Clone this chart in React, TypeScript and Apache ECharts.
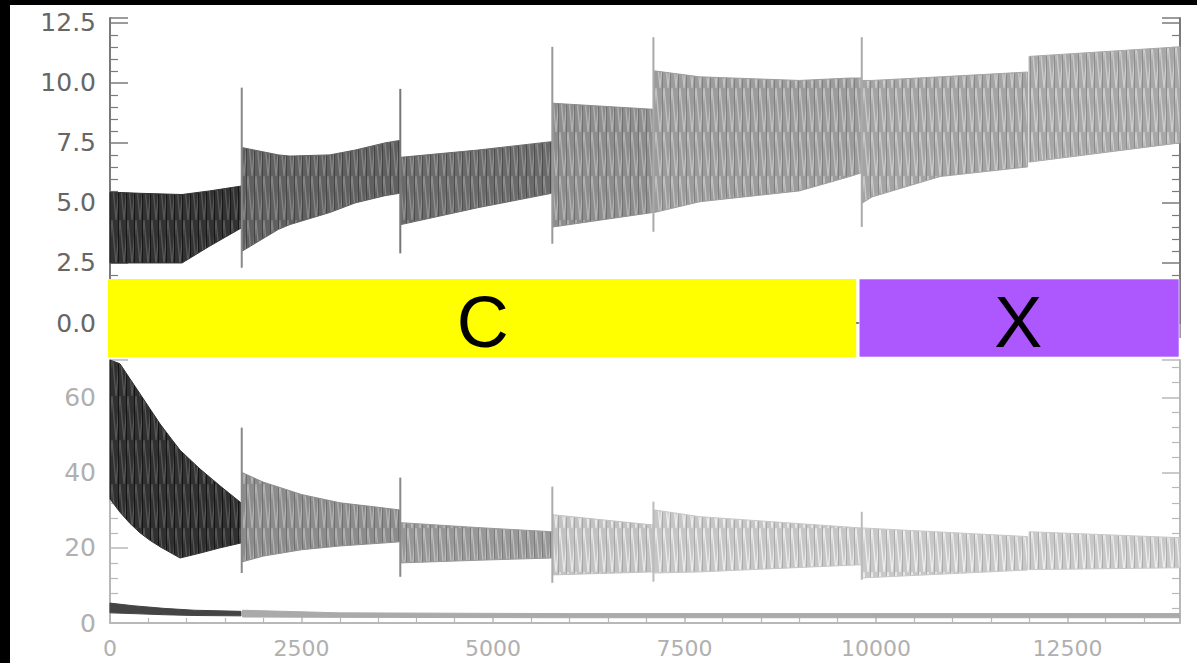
import React, { useEffect, useRef } from 'react';
import * as echarts from 'echarts';

// ---------- data ----------
const X_MAX = 13970;

// x positions of the transient spikes (segment boundaries)
const spikeX = [1720, 3790, 5775, 7095, 9815];
const topSpikeHigh = [9.8, 9.75, 11.5, 11.9, 11.9];
const topSpikeLow = [2.3, 2.9, 3.3, 3.8, 4.0];
const bottomSpikeHigh = [52, 38.7, 36.3, 32.3, 29.6];
const bottomSpikeLow = [13.3, 12.3, 10.7, 11.0, 11.5];

// top panel: oscillation envelope per segment
const topX = [
  [0, 400, 940, 1300, 1710],
  [1730, 2200, 2350, 2870, 3200, 3590, 3780],
  [3800, 4800, 5765],
  [5785, 7085],
  [7105, 7700, 9000, 9660, 9805],
  [9825, 9950, 10840, 11980],
  [12000, 13970],
];
const topUpper = [
  [5.45, 5.4, 5.35, 5.5, 5.7],
  [7.3, 7.0, 6.95, 7.0, 7.2, 7.5, 7.6],
  [6.9, 7.2, 7.55],
  [9.15, 8.9],
  [10.5, 10.25, 10.1, 10.2, 10.2],
  [10.1, 10.1, 10.25, 10.45],
  [11.1, 11.5],
];
const topLower = [
  [2.5, 2.5, 2.5, 3.2, 3.95],
  [3.0, 3.9, 4.1, 4.6, 5.0, 5.3, 5.4],
  [4.1, 4.8, 5.4],
  [4.0, 4.6],
  [4.6, 5.05, 5.5, 6.1, 6.25],
  [5.0, 5.25, 6.1, 6.5],
  [6.7, 7.5],
];

// bottom panel: oscillation envelope per segment
const bottomX = [
  [0, 130, 261, 392, 522, 653, 783, 914, 1175, 1436, 1710],
  [1730, 2000, 2500, 3000, 3500, 3780],
  [3800, 4800, 5765],
  [5785, 7085],
  [7105, 7700, 9805],
  [9825, 11980],
  [12000, 13970],
];
const bottomUpper = [
  [72, 69, 65, 61, 57, 53, 49.5, 46, 41, 36.5, 32],
  [40, 37.5, 34.2, 32, 30.8, 30.1],
  [26.7, 25.4, 24.3],
  [28.8, 26.1],
  [30.1, 28.3, 25.3],
  [25.3, 23],
  [24.3, 22.7],
];
const bottomLower = [
  [33, 29.5, 26.5, 24, 22, 20.3, 18.8, 17.3, 18.6, 20, 21.3],
  [16.3, 17.8, 19.5, 20.5, 21.2, 21.6],
  [16, 16.7, 17.3],
  [12.8, 13.6],
  [13.3, 13.6, 15.5],
  [12, 14.1],
  [14.2, 14.7],
];

// thin trace near zero in the bottom panel
const traceX = [
  [0, 300, 700, 1100, 1710],
  [1730, 3000, 6000, 10000, 13970],
];
const traceUpper = [
  [5.3, 4.6, 3.9, 3.4, 3.1],
  [3.4, 2.7, 2.5, 2.5, 2.5],
];
const traceLower = [
  [2.7, 2.5, 2.2, 2.0, 1.9],
  [1.6, 1.5, 1.4, 1.4, 1.4],
];

// phase bar
const phaseLabels = ['C', 'X'];
const phaseStart = [0, 9800];
const phaseEnd = [9800, 14000];

// ---------- styles ----------
const topColors = ['#323232', '#606060', '#6a6a6a', '#8d8d8d', '#9c9c9c', '#a4a4a4', '#a8a8a8'];
const bottomColors = ['#303030', '#8c8c8c', '#989898', '#c2c2c2', '#c6c6c6', '#c8c8c8', '#c8c8c8'];
const topSpikeColors = ['#888888', '#777777', '#999999', '#aaaaaa', '#aaaaaa'];
const bottomSpikeColors = ['#888888', '#888888', '#aaaaaa', '#bbbbbb', '#bbbbbb'];
const traceColors = ['#444444', '#aaaaaa'];
const phaseColors = ['#ffff00', '#ad57ff'];

const FONT = 'DejaVu Sans';

function shade(hex: string, d: number) {
  const n = parseInt(hex.slice(1), 16);
  const c = (v: number) => Math.max(0, Math.min(255, v + d)).toString(16).padStart(2, '0');
  return '#' + c((n >> 16) & 255) + c((n >> 8) & 255) + c(n & 255);
}

function makePattern(base: string, light: string, dark: string) {
  const w = 8;
  const h = 44;
  const c = document.createElement('canvas');
  c.width = w;
  c.height = h;
  const g = c.getContext('2d');
  if (!g) return base;
  g.fillStyle = base;
  g.fillRect(0, 0, w, h);
  g.strokeStyle = light;
  g.lineWidth = 1.3;
  g.beginPath();
  g.moveTo(0, 0);
  g.lineTo(w / 2, h);
  g.lineTo(w, 0);
  g.stroke();
  g.strokeStyle = dark;
  g.lineWidth = 1;
  g.beginPath();
  g.moveTo(6.5, 0);
  g.lineTo(6.5, h);
  g.stroke();
  return { image: c.toDataURL(), repeat: 'repeat', imageWidth: w, imageHeight: h };
}

function bandSeries(name: string, xs: number[][], up: number[][], lo: number[][], colors: string[], xi: number, yi: number, textured: boolean) {
  const fills = colors.map((col) => (textured ? makePattern(col, shade(col, 38), shade(col, -28)) : col));
  return {
    type: 'custom',
    name,
    xAxisIndex: xi,
    yAxisIndex: yi,
    z: 2,
    silent: true,
    data: xs.map((_, i) => [i]),
    renderItem: (params: any, api: any) => {
      const i = api.value(0);
      const pts: number[][] = [];
      xs[i].forEach((x, k) => pts.push(api.coord([x, up[i][k]])));
      for (let k = xs[i].length - 1; k >= 0; k--) pts.push(api.coord([xs[i][k], lo[i][k]]));
      const cs = params.coordSys;
      const clipped = echarts.graphic.clipPointsByRect(pts, { x: cs.x, y: cs.y, width: cs.width, height: cs.height });
      return {
        type: 'polygon',
        shape: { points: clipped },
        style: { fill: fills[i], stroke: colors[i], lineWidth: 1 },
      };
    },
  };
}

function spikeSeries(name: string, lows: number[], highs: number[], colors: string[], xi: number, yi: number) {
  return {
    type: 'custom',
    name,
    xAxisIndex: xi,
    yAxisIndex: yi,
    z: 3,
    silent: true,
    data: spikeX.map((x, i) => [x, lows[i], highs[i], i]),
    renderItem: (params: any, api: any) => {
      const p1 = api.coord([api.value(0), api.value(1)]);
      const p2 = api.coord([api.value(0), api.value(2)]);
      return {
        type: 'line',
        shape: { x1: p1[0], y1: p1[1], x2: p2[0], y2: p2[1] },
        style: { stroke: colors[api.value(3)], lineWidth: 2 },
      };
    },
  };
}

const fmt = (step: number, digits: number) => (v: number) =>
  Math.abs(v / step - Math.round(v / step)) < 1e-6 ? v.toFixed(digits) : '';

function axisCommon(color: string) {
  return {
    axisLine: { show: true, lineStyle: { color, width: 2 } },
    splitLine: { show: false },
  };
}

export default function App() {
  const ref = useRef<HTMLDivElement>(null);
  useEffect(() => {
    if (!ref.current) return;
    const chart = echarts.init(ref.current, undefined, { renderer: 'svg' });
    const topAxisColor = '#7a7a7a';
    const botAxisColor = '#b8b8b8';
    const option: any = {
      animation: false,
      backgroundColor: '#000000',
      graphic: [
        { type: 'rect', z: -100, silent: true, shape: { x: 10, y: 5, width: 1187, height: 658 }, style: { fill: '#ffffff' } },
      ],
      grid: [
        { left: 110, right: 17, top: 18, height: 305 },
        { left: 110, right: 17, top: 360, height: 263 },
        { left: 108, right: 18, top: 279, height: 78 },
      ],
      xAxis: [
        {
          gridIndex: 0, type: 'value', position: 'top', min: 0, max: X_MAX, interval: 2500,
          ...axisCommon(topAxisColor),
          axisTick: { show: true, inside: true, length: 15, lineStyle: { color: topAxisColor, width: 1.5 } },
          minorTick: { show: true, splitNumber: 5, length: 7, lineStyle: { color: topAxisColor, width: 1.2 } },
          axisLabel: { show: false },
        },
        {
          gridIndex: 1, type: 'value', position: 'bottom', min: 0, max: X_MAX, interval: 2500,
          ...axisCommon(botAxisColor),
          axisTick: { show: true, inside: true, length: 10, lineStyle: { color: botAxisColor, width: 1.5 } },
          minorTick: { show: true, splitNumber: 5, length: 5, lineStyle: { color: botAxisColor, width: 1.2 } },
          axisLabel: { show: true, color: '#b0b0b0', fontSize: 22, fontFamily: FONT, margin: 14, formatter: fmt(2500, 0) },
        },
        { gridIndex: 2, type: 'value', min: 0, max: 14000, show: false },
      ],
      yAxis: [
        {
          gridIndex: 0, type: 'value', position: 'left', min: 0, max: 12.7, interval: 2.5,
          ...axisCommon(topAxisColor),
          axisTick: { show: true, inside: true, length: 18, lineStyle: { color: topAxisColor, width: 1.5 } },
          minorTick: { show: true, splitNumber: 5, length: 8, lineStyle: { color: topAxisColor, width: 1.2 } },
          axisLabel: { show: true, color: '#666666', fontSize: 25, fontFamily: FONT, margin: 14, formatter: fmt(2.5, 1) },
        },
        {
          gridIndex: 0, type: 'value', position: 'right', min: 0, max: 12.7, interval: 2.5,
          ...axisCommon(topAxisColor),
          axisTick: { show: true, inside: true, length: 18, lineStyle: { color: topAxisColor, width: 1.5 } },
          minorTick: { show: true, splitNumber: 5, length: 8, lineStyle: { color: topAxisColor, width: 1.2 } },
          axisLabel: { show: false },
        },
        {
          gridIndex: 1, type: 'value', position: 'left', min: 0, max: 70, interval: 20,
          ...axisCommon(botAxisColor),
          axisTick: { show: true, inside: true, length: 18, lineStyle: { color: botAxisColor, width: 1.5 } },
          minorTick: { show: true, splitNumber: 5, length: 8, lineStyle: { color: botAxisColor, width: 1.2 } },
          axisLabel: { show: true, color: '#b0b0b0', fontSize: 25, fontFamily: FONT, margin: 14, formatter: fmt(20, 0) },
        },
        {
          gridIndex: 1, type: 'value', position: 'right', min: 0, max: 70, interval: 20,
          ...axisCommon(botAxisColor),
          axisTick: { show: true, inside: true, length: 18, lineStyle: { color: botAxisColor, width: 1.5 } },
          minorTick: { show: true, splitNumber: 5, length: 8, lineStyle: { color: botAxisColor, width: 1.2 } },
          axisLabel: { show: false },
        },
        { gridIndex: 2, type: 'value', min: 0, max: 1, show: false },
      ],
      series: [
        bandSeries('top', topX, topUpper, topLower, topColors, 0, 0, true),
        spikeSeries('topSpikes', topSpikeLow, topSpikeHigh, topSpikeColors, 0, 0),
        bandSeries('bottom', bottomX, bottomUpper, bottomLower, bottomColors, 1, 2, true),
        spikeSeries('bottomSpikes', bottomSpikeLow, bottomSpikeHigh, bottomSpikeColors, 1, 2),
        bandSeries('trace', traceX, traceUpper, traceLower, traceColors, 1, 2, false),
        {
          type: 'custom',
          name: 'phase',
          xAxisIndex: 2,
          yAxisIndex: 4,
          z: 10,
          silent: true,
          data: phaseLabels.map((_, i) => [phaseStart[i], phaseEnd[i], i]),
          renderItem: (params: any, api: any) => {
            const i = api.value(2);
            const p1 = api.coord([api.value(0), 1]);
            const p2 = api.coord([api.value(1), 0]);
            const gapL = i > 0 ? 1.5 : 0;
            const gapR = i < phaseLabels.length - 1 ? 1.5 : 0;
            return {
              type: 'group',
              children: [
                {
                  type: 'rect',
                  shape: { x: p1[0] + gapL, y: p1[1], width: p2[0] - p1[0] - gapL - gapR, height: p2[1] - p1[1] },
                  style: i > 0
                    ? { fill: phaseColors[i], stroke: 'rgba(255,255,255,0.6)', lineWidth: 1 }
                    : { fill: phaseColors[i] },
                },
                {
                  type: 'text',
                  x: (p1[0] + p2[0]) / 2,
                  y: (p1[1] + p2[1]) / 2 + 4,
                  style: {
                    text: phaseLabels[i], fill: '#000000', fontSize: 72, fontFamily: 'Liberation Sans',
                    align: 'center', verticalAlign: 'middle',
                  },
                },
              ],
            };
          },
        },
      ],
    };
    chart.setOption(option);
    return () => chart.dispose();
  }, []);
  return (
    <div
      ref={ref}
      style={{ position: 'fixed', left: 0, top: 0, width: 1197, height: 663 }}
    />
  );
}
